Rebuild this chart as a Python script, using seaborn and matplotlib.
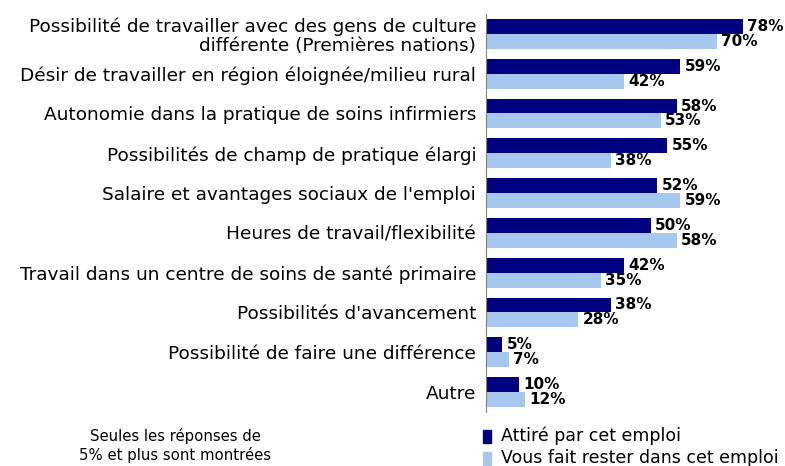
import matplotlib
matplotlib.use("Agg")
import matplotlib.pyplot as plt
import pandas as pd
import seaborn as sns

categories = [
    "Possibilité de travailler avec des gens de culture\ndifférente (Premières nations)",
    "Désir de travailler en région éloignée/milieu rural",
    "Autonomie dans la pratique de soins infirmiers",
    "Possibilités de champ de pratique élargi",
    "Salaire et avantages sociaux de l'emploi",
    "Heures de travail/flexibilité",
    "Travail dans un centre de soins de santé primaire",
    "Possibilités d'avancement",
    "Possibilité de faire une différence",
    "Autre",
]
attire = [78, 59, 58, 55, 52, 50, 42, 38, 5, 10]
rester = [70, 42, 53, 38, 59, 58, 35, 28, 7, 12]
series = ["Attiré par cet emploi", "Vous fait rester dans cet emploi"]
colors = ["#000080", "#A6C8EE"]

df = pd.DataFrame({
    "cat": categories * 2,
    "val": attire + rester,
    "serie": [series[0]] * len(categories) + [series[1]] * len(categories),
})

sns.set_style("white")
plt.rcParams["font.family"] = ["DejaVu Sans"]
plt.rcParams["text.color"] = "black"
plt.rcParams["ytick.color"] = "black"

fig = plt.figure(figsize=(7.85, 4.66), dpi=100)
ax = fig.add_axes([0.619, 0.116, 0.378, 0.854])

sns.barplot(data=df, y="cat", x="val", hue="serie", palette=colors,
            width=0.75, orient="h", ax=ax, legend=False, saturation=1,
            linewidth=0)

for cont in ax.containers:
    ax.bar_label(cont, fmt="%d%%", padding=3, fontsize=11, fontweight="bold",
                 color="black")

ax.set_xlim(0, 90)
ax.set_xlabel("")
ax.set_ylabel("")
ax.set_xticks([])
ax.tick_params(axis="y", length=0, pad=7, labelsize=13.3, labelcolor="black")
for lab in ax.get_yticklabels():
    lab.set_horizontalalignment("right")
    lab.set_multialignment("right")
    lab.set_linespacing(1.05)
for s in ["top", "right", "bottom"]:
    ax.spines[s].set_visible(False)
ax.spines["left"].set_color("#808080")

# legend
for i, (name, c) in enumerate(zip(series, colors)):
    y = 0.064 - i * 0.047
    fig.patches.append(plt.Rectangle((0.615, y - 0.015), 0.011, 0.028,
                                     transform=fig.transFigure, color=c))
    fig.text(0.638, y, name, fontsize=12.5, va="center")

fig.text(0.223, 0.044, "Seules les réponses de\n5% et plus sont montrées",
         fontsize=10.7, ha="center", va="center", linespacing=1.25)

fig.savefig("out.png", dpi=100)
